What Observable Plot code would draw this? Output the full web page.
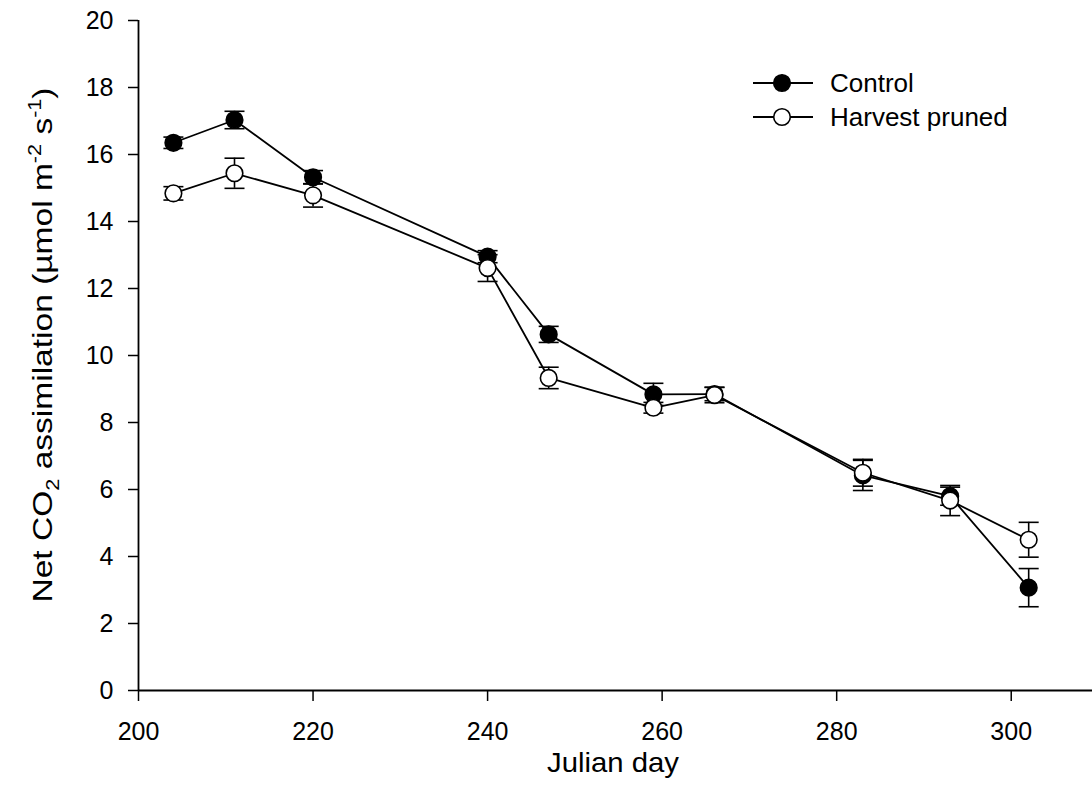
<!DOCTYPE html>
<html>
<head>
<meta charset="utf-8">
<script src="https://cdn.jsdelivr.net/npm/d3@7"></script>
<script src="https://cdn.jsdelivr.net/npm/@observablehq/plot@0.6"></script>
<style>
  html, body { margin: 0; padding: 0; background: white; overflow: hidden; }
  #chart { width: 1092px; height: 806px; overflow: hidden; }
  #chart svg { max-width: none !important; }
</style>
</head>
<body>
<div id="chart"></div>
<script>
// ---- Data ----
const days = [204, 211, 220, 240, 247, 259, 266, 283, 293, 302];
const controlMean = [16.35, 17.03, 15.32, 12.95, 10.63, 8.84, 8.85, 6.42, 5.80, 3.07];
const controlErr  = [0.17, 0.26, 0.20, 0.18, 0.24, 0.33, 0.20, 0.45, 0.27, 0.57];
const prunedMean  = [14.84, 15.44, 14.78, 12.61, 9.33, 8.44, 8.82, 6.50, 5.67, 4.50];
const prunedErr   = [0.20, 0.45, 0.35, 0.40, 0.32, 0.16, 0.23, 0.40, 0.45, 0.52];
const seriesNames = ["Control", "Harvest pruned"];
const xTicks = [200, 220, 240, 260, 280, 300];
const yTicks = [0, 2, 4, 6, 8, 10, 12, 14, 16, 18, 20];
const xTitle = "Julian day";

const control = days.map((d, i) => ({day: d, mean: controlMean[i], err: controlErr[i]}));
const pruned  = days.map((d, i) => ({day: d, mean: prunedMean[i], err: prunedErr[i]}));

const FONT = "'Liberation Sans', Arial, Helvetica, sans-serif";
const capSymbol = { draw(ctx) { ctx.moveTo(-10, 0); ctx.lineTo(10, 0); } };

function seriesMarks(data, fill) {
  return [
    Plot.line(data, {x: "day", y: "mean", stroke: "black", strokeWidth: 1.8}),
    Plot.ruleX(data, {x: "day", y1: d => d.mean - d.err, y2: d => d.mean + d.err, stroke: "black", strokeWidth: 1.6}),
    Plot.dot(data, {x: "day", y: d => d.mean + d.err, symbol: capSymbol, stroke: "black", strokeWidth: 1.6, fill: "none"}),
    Plot.dot(data, {x: "day", y: d => d.mean - d.err, symbol: capSymbol, stroke: "black", strokeWidth: 1.6, fill: "none"}),
    Plot.dot(data, {x: "day", y: "mean", r: 8.3, fill, stroke: "black", strokeWidth: 1.6})
  ];
}

const chart = Plot.plot({
  width: 1098,
  height: 806,
  marginLeft: 138,
  marginRight: 0,
  marginTop: 20,
  marginBottom: 116,
  style: {fontFamily: FONT, fontSize: "25px", color: "black", background: "white", overflow: "visible", maxWidth: "none"},
  x: {domain: [200, 310], label: null},
  y: {domain: [0, 20], label: null},
  marks: [
    Plot.axisX({ticks: xTicks, tickSize: 11, tickPadding: 21, strokeWidth: 1.5, label: null}),
    Plot.axisY({ticks: yTicks, tickSize: 10, tickPadding: 15, strokeWidth: 1.5, label: null}),
    Plot.ruleY([0], {stroke: "black", strokeWidth: 1.8}),
    Plot.ruleX([200], {stroke: "black", strokeWidth: 1.8}),
    ...seriesMarks(control, "black"),
    ...seriesMarks(pruned, "white")
  ]
});

document.getElementById("chart").appendChild(chart);

// ---- Axis titles & legend ----
const svg = d3.select(chart);
svg.selectAll('g[aria-label="x-axis tick label"] text, g[aria-label="y-axis tick label"] text')
  .style("font-size", "25px");
svg.selectAll('g[aria-label="x-axis tick label"], g[aria-label="y-axis tick label"]')
  .style("font-size", "25px");

svg.append("text")
  .attr("x", 613).attr("y", 772)
  .attr("text-anchor", "middle")
  .attr("textLength", 132).attr("lengthAdjust", "spacingAndGlyphs")
  .style("font-family", FONT).style("font-size", "28px").attr("fill", "black")
  .text(xTitle);

const yt = svg.append("text")
  .attr("transform", "translate(52,345) rotate(-90)")
  .attr("text-anchor", "middle")
  .attr("textLength", 515).attr("lengthAdjust", "spacingAndGlyphs")
  .style("font-family", FONT).style("font-size", "28px").attr("fill", "black");
yt.append("tspan").text("Net CO");
yt.append("tspan").attr("dy", 7).style("font-size", "18px").text("2");
yt.append("tspan").attr("dy", -7).text(" assimilation (\u00b5mol m");
yt.append("tspan").attr("dy", -11).style("font-size", "18px").text("-2");
yt.append("tspan").attr("dy", 11).text(" s");
yt.append("tspan").attr("dy", -11).style("font-size", "18px").text("-1");
yt.append("tspan").attr("dy", 11).text(")");

const legend = svg.append("g");
seriesNames.forEach((name, i) => {
  const y = 83 + i * 34;
  legend.append("line").attr("x1", 753).attr("x2", 813).attr("y1", y).attr("y2", y)
    .attr("stroke", "black").attr("stroke-width", 1.8);
  legend.append("circle").attr("cx", 782).attr("cy", y).attr("r", 8.3)
    .attr("fill", i === 0 ? "black" : "white").attr("stroke", "black").attr("stroke-width", 1.6);
  legend.append("text").attr("x", 830).attr("y", y).attr("dy", "0.35em")
    .attr("text-anchor", "start")
    .style("font-family", FONT).style("font-size", "26px").attr("fill", "black")
    .text(name);
});
</script>
</body>
</html>
